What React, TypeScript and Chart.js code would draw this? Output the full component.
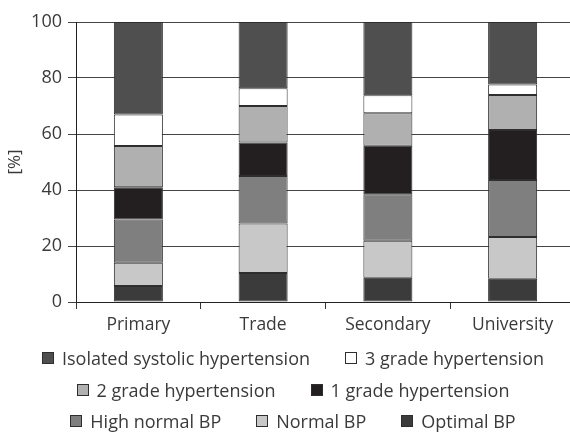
import React, { useEffect, useRef } from "react";
import { Chart, registerables } from "chart.js";

Chart.register(...registerables);

const categories = ["Primary", "Trade", "Secondary", "University"];
const optimalBP = [5.7, 10.4, 8.7, 8.3];
const normalBP = [8.3, 17.6, 13.2, 14.9];
const highNormalBP = [15.5, 17.0, 16.6, 20.4];
const grade1 = [11.5, 12.0, 17.3, 17.8];
const grade2 = [14.7, 13.0, 11.6, 12.5];
const grade3 = [11.3, 6.3, 6.4, 3.8];
const isolatedSystolic = [33.0, 23.7, 26.2, 22.3];
const yTicks = [0, 20, 40, 60, 80, 100];

const seriesNames = [
  "Optimal BP",
  "Normal BP",
  "High normal BP",
  "1 grade hypertension",
  "2 grade hypertension",
  "3 grade hypertension",
  "Isolated systolic hypertension",
];
const seriesColors = ["#3b3b3b", "#c8c8c8", "#7f7f7f", "#231f20", "#b0b0b0", "#ffffff", "#4f4f4f"];
const seriesData = [optimalBP, normalBP, highNormalBP, grade1, grade2, grade3, isolatedSystolic];

// legend rows as shown (indices into series arrays)
const legendRows = [
  [6, 5],
  [4, 3],
  [2, 1, 0],
];

const FONT = "'Open Sans', 'Noto Sans', sans-serif";
const TEXT = "#3a3a3a";

export default function App() {
  const ref = useRef<HTMLCanvasElement | null>(null);

  useEffect(() => {
    if (!ref.current) return;
    const chart = new Chart(ref.current, {
      type: "bar",
      data: {
        labels: categories,
        datasets: seriesNames.map((name, i) => ({
          label: name,
          data: seriesData[i],
          backgroundColor: seriesColors[i],
          borderColor: "#2e2e2e",
          borderWidth: 1,
          borderSkipped: false,
          categoryPercentage: 1,
          barPercentage: 0.393,
        })),
      },
      options: {
        responsive: false,
        animation: false,
        layout: { padding: { top: 22, right: 11, left: 0, bottom: 0 } },
        plugins: {
          legend: { display: false },
          tooltip: { enabled: false },
        },
        scales: {
          x: {
            stacked: true,
            afterFit: (s: any) => {
              s.height = 130;
            },
            grid: {
              display: true,
              drawOnChartArea: false,
              drawTicks: true,
              tickLength: 7,
              color: "#333",
              offset: true,
            },
            border: { display: true, color: "#222", width: 1 },
            ticks: { color: TEXT, font: { family: FONT, size: 17.5 }, padding: 6 },
          },
          y: {
            stacked: true,
            min: 0,
            max: 100,
            afterFit: (s: any) => {
              s.width = 76;
            },
            afterBuildTicks: (s: any) => {
              s.ticks = yTicks.map((v) => ({ value: v }));
            },
            grid: { color: "#444", lineWidth: 1, tickLength: 8, drawTicks: true },
            border: { display: true, color: "#222", width: 1 },
            ticks: { color: TEXT, font: { family: FONT, size: 18 }, padding: 6 },
            title: {
              display: true,
              text: "[%]",
              color: TEXT,
              font: { family: FONT, size: 17 },
              padding: { top: 5, bottom: 0 },
            },
          },
        },
      },
    });
    return () => chart.destroy();
  }, []);

  return (
    <div
      style={{
        position: "fixed",
        left: 0,
        top: 0,
        width: 570,
        height: 432,
        overflow: "hidden",
        background: "#fff",
      }}
    >
      <canvas ref={ref} width={586} height={432} style={{ width: 586, height: 432, display: "block" }} />
      {legendRows.map((row, r) => (
        <div
          key={r}
          style={{
            position: "absolute",
            left: 0,
            width: 586,
            top: [347, 379, 410][r],
            height: 22,
            display: "flex",
            justifyContent: "center",
            alignItems: "center",
            fontFamily: FONT,
            fontSize: 18,
            color: TEXT,
            lineHeight: "22px",
            whiteSpace: "nowrap",
          }}
        >
          {row.map((idx, k) => (
            <div
              key={idx}
              style={{ display: "flex", alignItems: "center", marginLeft: k === 0 ? 0 : 35 }}
            >
              <span
                style={{
                  display: "inline-block",
                  width: 10,
                  height: 10,
                  background: seriesColors[idx],
                  border: "1px solid #2e2e2e",
                  marginRight: 8,
                }}
              />
              <span>{seriesNames[idx]}</span>
            </div>
          ))}
        </div>
      ))}
    </div>
  );
}
